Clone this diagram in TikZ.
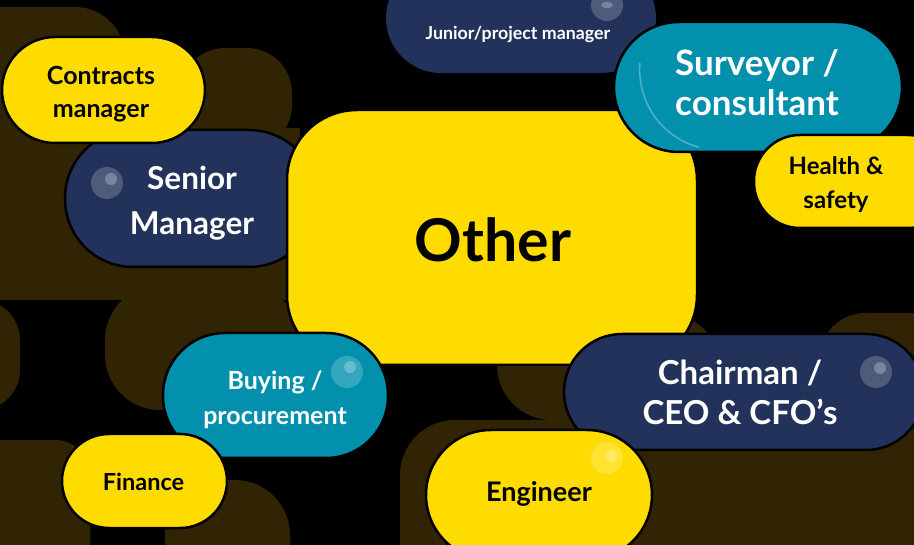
\documentclass[tikz,border=0pt]{standalone}
\usepackage{fontspec}
\setmainfont{Lato}
\begin{document}
\begin{tikzpicture}[x=1pt,y=-1pt,
  pill/.style={draw=black, line width=2.5pt, align=center, inner sep=0pt, font=\bfseries},
  yel/.style={pill, fill=ylw, text=black},
  nav/.style={pill, fill=navyc, text=white},
  tea/.style={pill, fill=tealc, text=white},
  lbl/.style={align=center, inner sep=0pt, font=\bfseries},
  bg/.style={fill=olive},
  bub/.style={fill=white, fill opacity=0.2, draw=none},
  bubin/.style={fill=white, fill opacity=0.25, draw=none}]
\definecolor{ylw}{HTML}{FFDC00}
\definecolor{navyc}{HTML}{22325A}
\definecolor{tealc}{HTML}{0290AD}
\definecolor{olive}{HTML}{302404}
\useasboundingbox (0,0) rectangle (914,545);
\fill[black] (0,0) rectangle (914,545);
% background shapes
\fill[bg, rounded corners=50pt] (-60,7) rectangle (125,140);
\fill[bg, rounded corners=45pt] (180,48) rectangle (292,150);
\fill[bg] (0,128) rectangle (300,300);
\fill[bg, rounded corners=40pt] (-80,300) rectangle (20,410);
\fill[bg, rounded corners=55pt] (105,285) rectangle (300,410);
\fill[bg, rounded corners=35pt] (-60,440) rectangle (90,600);
\fill[bg, rounded corners=55pt] (165,480) rectangle (290,600);
\fill[bg, rounded corners=55pt] (497,313) rectangle (720,420);
\fill[bg, rounded corners=55pt] (400,420) rectangle (960,600);
\fill[bg, rounded corners=45pt] (820,313) rectangle (960,450);
\fill[bg] (700,420) rectangle (914,545);
% nodes
\node[nav, draw=none, minimum width=270pt, minimum height=110pt, rounded corners=55pt] (junior) at (521,18) {};
\node[lbl, text=white, font=\bfseries\fontsize{17.8}{20}\selectfont] (juniort) at (518,34) {Junior/project manager};
\node[nav, minimum width=252pt, minimum height=137pt, rounded corners=68pt] (senior) at (191,198.5) {};
\node[lbl, text=white, font=\bfseries\fontsize{31.5}{45}\selectfont] (seniort) at (192,203) {Senior\\Manager};
\node[yel, minimum width=203pt, minimum height=106pt, rounded corners=53pt] (contracts) at (103.5,90) {};
\node[lbl, font=\bfseries\fontsize{25}{33}\selectfont] (contractst) at (101,94) {Contracts\\manager};
\node[yel, minimum width=410pt, minimum height=255pt, rounded corners=70pt] (other) at (492,237.5) {};
\node[lbl, font=\bfseries\fontsize{59}{70}\selectfont] (othert) at (493,240) {Other};
\node[tea, minimum width=288pt, minimum height=130pt, rounded corners=65pt] (surveyor) at (758,87) {};
\node[lbl, text=white, font=\bfseries\fontsize{35}{40}\selectfont] (surveyort) at (757,83) {Surveyor /\\consultant};
\draw[white, opacity=0.3, line width=1.5pt] (640,63) arc[start angle=175, end angle=255, radius=80pt];
\node[yel, minimum width=200pt, minimum height=93pt, rounded corners=46pt] (health) at (854,181.5) {};
\node[lbl, font=\bfseries\fontsize{24}{34}\selectfont] (healtht) at (836,185) {Health \&\\safety};
\node[nav, minimum width=360pt, minimum height=116pt, rounded corners=58pt] (chair) at (744,392) {};
\node[lbl, text=white, font=\bfseries\fontsize{33}{40}\selectfont] (chairt) at (740,392) {Chairman /\\CEO \& CFO’s};
\node[tea, minimum width=225pt, minimum height=125pt, rounded corners=62pt] (buying) at (275.5,395.5) {};
\node[lbl, text=white, font=\bfseries\fontsize{25}{35}\selectfont] (buyingt) at (275,400) {Buying /\\procurement};
\node[yel, minimum width=165pt, minimum height=94pt, rounded corners=47pt] (finance) at (144.5,481) {};
\node[lbl, font=\bfseries\fontsize{23.5}{26}\selectfont] (financet) at (143.5,482) {Finance};
\node[yel, minimum width=226pt, minimum height=130pt, rounded corners=65pt] (engineer) at (539,495) {};
\node[lbl, font=\bfseries\fontsize{27}{32}\selectfont] (engineert) at (539,494) {Engineer};
% bubbles
\fill[bub] (107,183) circle[radius=16pt];
\fill[bubin] (111,179) circle[radius=6pt];
\fill[bub] (607,5) circle[radius=16pt];
\fill[bubin] (607,5) ellipse[x radius=6pt, y radius=3pt];
\fill[bub] (347,372) circle[radius=16pt];
\fill[bubin] (350,367) circle[radius=6pt];
\fill[bub] (876,372) circle[radius=16pt];
\fill[bubin] (880,368) circle[radius=6pt];
\fill[bub] (607,458) circle[radius=16pt];
\fill[bubin] (611,456) circle[radius=6pt];
\end{tikzpicture}
\end{document}
